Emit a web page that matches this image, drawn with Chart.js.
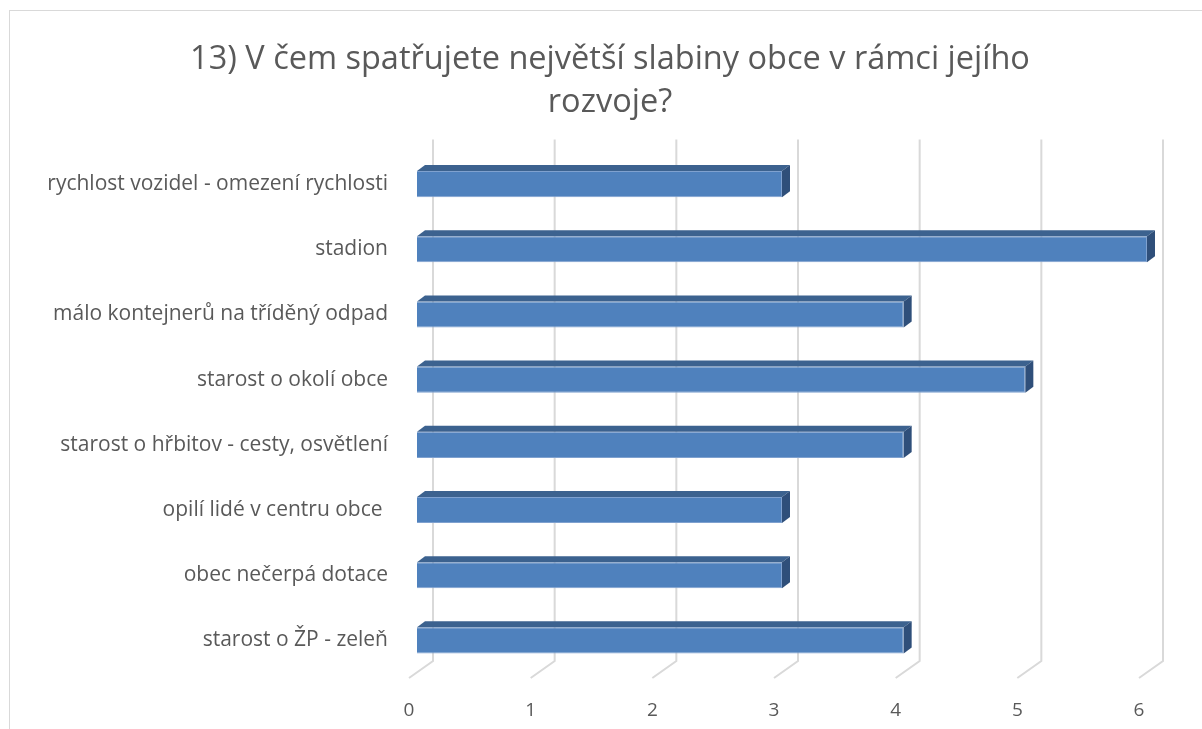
<!DOCTYPE html>
<html>
<head>
<meta charset="utf-8">
<script src="https://cdn.jsdelivr.net/npm/chart.js@4/dist/chart.umd.min.js"></script>
<style>
  body { margin: 0; background: #fff; }
  #frame { position: absolute; left: 9px; top: 10px; width: 1210px; height: 740px; border: 1px solid #d9d9d9; }
  #wrap { position: absolute; left: 0; top: 0; width: 1202px; height: 729px; }
</style>
</head>
<body>
<div id="frame"></div>
<div id="wrap"><canvas id="myChart" width="1202" height="729"></canvas></div>
<script>
const titleLines = ["13) V čem spatřujete největší slabiny obce v rámci jejího", "rozvoje?"];
const categories = [
  "rychlost vozidel - omezení rychlosti",
  "stadion",
  "málo kontejnerů na tříděný odpad",
  "starost o okolí obce",
  "starost o hřbitov - cesty, osvětlení",
  "opilí lidé v centru obce ",
  "obec nečerpá dotace",
  "starost o ŽP - zeleň"
];
const values = [3, 6, 4, 5, 4, 3, 3, 4];

const FONT = "'Open Sans', Lato, sans-serif";
const TEXT = "#595959";

// fake 3d: back wall grid lines + top/side faces on the bars
const depth3d = {
  id: "depth3d",
  beforeDatasetsDraw(chart) {
    const ctx = chart.ctx;
    const x = chart.scales.x;
    const area = chart.chartArea;
    ctx.save();
    ctx.strokeStyle = "#d9d9d9";
    ctx.lineWidth = 2;
    for (let v = 0; v <= 6; v++) {
      const px = x.getPixelForValue(v);
      ctx.beginPath();
      ctx.moveTo(px + 16, area.top - 12);
      ctx.lineTo(px + 16, area.bottom - 12);
      ctx.lineTo(px - 8, area.bottom + 5);
      ctx.stroke();
    }
    ctx.restore();
  },
  afterDatasetsDraw(chart) {
    const ctx = chart.ctx;
    const meta = chart.getDatasetMeta(0);
    ctx.save();
    meta.data.forEach((bar) => {
      const p = bar.getProps(["x", "y", "base", "height"], true);
      const top = p.y - p.height / 2;
      const bottom = p.y + p.height / 2;
      ctx.fillStyle = "#3c628f";
      ctx.beginPath();
      ctx.moveTo(p.base, top);
      ctx.lineTo(p.base + 8, top - 6);
      ctx.lineTo(p.x + 8, top - 6);
      ctx.lineTo(p.x, top);
      ctx.closePath();
      ctx.fill();
      ctx.fillStyle = "#2f4f7a";
      ctx.beginPath();
      ctx.moveTo(p.x, top);
      ctx.lineTo(p.x + 8, top - 6);
      ctx.lineTo(p.x + 8, bottom - 6);
      ctx.lineTo(p.x, bottom);
      ctx.closePath();
      ctx.fill();
    });
    ctx.restore();
  }
};

new Chart(document.getElementById("myChart"), {
  type: "bar",
  data: {
    labels: categories,
    datasets: [{
      data: values,
      backgroundColor: "#4f81bd",
      borderColor: "#7fa1cf",
      borderWidth: 1,
      categoryPercentage: 1,
      barPercentage: 0.4
    }]
  },
  options: {
    indexAxis: "y",
    responsive: false,
    animation: false,
    layout: { padding: { top: 10, left: 18, right: 0, bottom: 0 } },
    plugins: {
      legend: { display: false },
      tooltip: { enabled: false },
      title: {
        display: true,
        text: titleLines,
        color: TEXT,
        font: { family: FONT, size: 32.5, weight: "normal", lineHeight: 1.3 },
        padding: { top: 29, bottom: 28 }
      }
    },
    scales: {
      x: {
        min: 0,
        max: 6,
        ticks: { stepSize: 1, color: TEXT, font: { family: FONT, size: 19 }, padding: 18, labelOffset: -8 },
        grid: { display: false },
        border: { display: false },
        afterFit(scale) { scale.height = 56; }
      },
      y: {
        ticks: { color: TEXT, font: { family: FONT, size: 21 }, padding: 21 },
        grid: { display: false },
        border: { display: false },
        afterFit(scale) { scale.width = 399; }
      },
      // empty right gutter
      yRight: {
        position: "right",
        ticks: { display: false },
        grid: { display: false },
        border: { display: false },
        afterFit(scale) { scale.width = 55; }
      }
    }
  },
  plugins: [depth3d]
});
</script>
</body>
</html>
